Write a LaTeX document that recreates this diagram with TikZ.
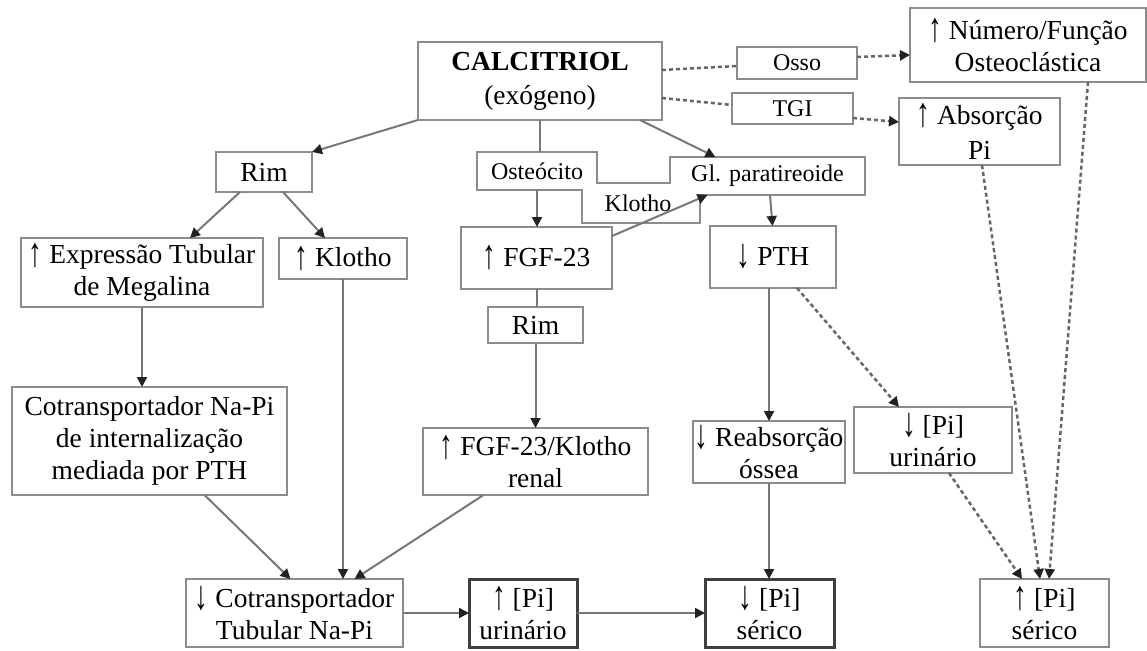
\documentclass[tikz,border=0pt]{standalone}
\usepackage{fontspec}
\usepackage{graphicx}
\setmainfont{Liberation Serif}
\usetikzlibrary{arrows.meta,calc}
\definecolor{boxgray}{HTML}{8C8C8C}
\definecolor{linegray}{HTML}{777777}
\definecolor{dashgray}{HTML}{666666}
\definecolor{darkbox}{HTML}{404040}
\definecolor{tipcol}{HTML}{222222}
\newcommand{\mainf}{\fontsize{27.5}{32}\selectfont}
\newcommand{\smallf}{\fontsize{24}{28}\selectfont}
\newcommand{\upar}{\raisebox{-0.1em}{\scalebox{1}[1.5]{↑}}}
\newcommand{\dnar}{\raisebox{-0.1em}{\scalebox{1}[1.5]{↓}}}
\begin{document}
\begin{tikzpicture}[x=1pt,y=-1pt,
  box/.style={rectangle, draw=boxgray, line width=2pt, inner sep=0pt, outer sep=0pt, align=center, font=\mainf},
  sbox/.style={box, font=\smallf},
  thickbox/.style={box, draw=darkbox, line width=3pt},
  ghost/.style={rectangle, inner sep=0pt, outer sep=0pt, align=center, font=\smallf},
  arr/.style={draw=linegray, line width=2pt, -{Triangle[length=10pt,width=10pt,color=tipcol]}},
  plain/.style={draw=linegray, line width=2pt},
  dsh/.style={draw=dashgray, line width=2.5pt, dash pattern=on 4pt off 3pt},
  darr/.style={dsh, -{Triangle[length=10pt,width=10pt,color=tipcol]}}
]
\useasboundingbox (0,0) rectangle (1147,650);

% top row
\node[box, minimum width=244, minimum height=78] (calc) at (540,81) {\textbf{CALCITRIOL}\\[2pt](exógeno)};
\node[sbox, minimum width=120, minimum height=32] (osso) at (797,63) {Osso};
\node[sbox, minimum width=121, minimum height=31] (tgi) at (792.5,108.5) {TGI};
\node[box, minimum width=236, minimum height=74] (num) at (1028,45) {\upar\ Número/Função\\Osteoclástica};
\node[box, minimum width=161, minimum height=67] (abs) at (979.5,131.5) {\upar\ Absorção\\[3pt]Pi};

% second row
\node[box, minimum width=96, minimum height=40] (rim1) at (264,172) {Rim};
\node[ghost, minimum width=120, minimum height=38] (osteR) at (537,171) {Osteócito};
\node[ghost, minimum width=195, minimum height=38] (glR) at (767.5,176) {Gl. paratireoide};
\node[ghost, minimum width=118, minimum height=40] (kloR) at (641,203) {\hspace*{-6pt}Klotho};
\draw[draw=boxgray, line width=2pt, line join=miter]
  (osteR.north west) -- (osteR.north east) -- (osteR.east |- kloR.north)
  -- (glR.west |- kloR.north) -- (glR.north west) -- (glR.north east)
  -- (glR.south east) -- (kloR.east |- glR.south) -- (kloR.south east)
  -- (kloR.south west) -- (kloR.west |- osteR.south) -- (osteR.south west) -- cycle;

% third row
\node[box, minimum width=242, minimum height=69] (expr) at (142,272.5) {\upar\ Expressão Tubular\\de Megalina};
\node[box, minimum width=128, minimum height=41] (klo) at (343,258.5) {\upar\ Klotho};
\node[box, minimum width=151, minimum height=62] (fgf) at (536.5,258) {\upar\ FGF-23};
\node[box, minimum width=126, minimum height=62] (pth) at (773,257) {\dnar\ PTH};
\node[box, minimum width=95, minimum height=36] (rim2) at (535.5,325) {Rim};

% fourth row
\node[box, minimum width=275, minimum height=108] (cot) at (149.5,441) {Cotransportador Na-Pi\\de internalização\\mediada por PTH};
\node[box, minimum width=225, minimum height=67] (fgfk) at (535.5,461.5) {\upar\ FGF-23/Klotho\\renal};
\node[box, minimum width=152, minimum height=62] (reab) at (769,452) {\dnar\ Reabsorção\\óssea};
\node[box, minimum width=158, minimum height=66] (piu) at (933,440) {\dnar\ [Pi]\\urinário};

% bottom row
\node[box, minimum width=217, minimum height=68] (cott) at (294.5,613) {\dnar\ Cotransportador\\Tubular Na-Pi};
\node[thickbox, minimum width=108, minimum height=68] (piu2) at (523,613) {\upar\ [Pi]\\urinário};
\node[thickbox, minimum width=129, minimum height=68] (pis) at (769.5,613) {\dnar\ [Pi]\\sérico};
\node[box, minimum width=129, minimum height=68] (pis2) at (1044.5,613) {\upar\ [Pi]\\sérico};

% solid connectors
\draw[arr] (calc.south west) -- (rim1.north east);
\draw[plain] (calc.south) -- (calc.south |- osteR.north);
\draw[arr] (osteR.south) -- (osteR.south |- fgf.north);
\draw[arr] ($(calc.south)+(100,0)$) -- ($(glR.north)+(-52,0)$);
\draw[arr] ($(fgf.north east)+(0,9)$) -- ($(glR.south)+(-60,0)$);
\draw[arr] ($(glR.south)+(2.5,0)$) -- ($(pth.north)+(-0.5,0)$);
\draw[arr] ($(rim1.south)+(-24,0)$) -- ($(expr.north)+(48,0)$);
\draw[arr] ($(rim1.south)+(19,0)$) -- ($(klo.north)+(-18,0)$);
\draw[arr] (expr.south) -- (expr.south |- cot.north);
\draw[arr] (klo.south) -- (klo.south |- cott.north);
\draw[arr] ($(cot.south)+(55,0)$) -- ($(cott.north)+(-4,0)$);
\draw[arr] ($(fgfk.south)+(-52,0)$) -- ($(cott.north)+(60,0)$);
\draw[plain] (fgf.south) -- (fgf.south |- rim2.north);
\draw[arr] (rim2.south) -- (rim2.south |- fgfk.north);
\draw[arr] (reab.north |- pth.south) -- (reab.north);
\draw[arr] (reab.south) -- (reab.south |- pis.north);
\draw[arr] (cott.east) -- (piu2.west);
\draw[arr] (piu2.east) -- (pis.west);

% dashed connectors
\draw[dsh] ($(calc.east)+(0,-11)$) -- ($(osso.west)+(0,3)$);
\draw[darr] ($(osso.east)+(0,-6)$) -- ($(num.west)+(0,10)$);
\draw[dsh] ($(calc.east)+(0,17)$) -- ($(tgi.west)+(0,-3.5)$);
\draw[darr] ($(tgi.east)+(0,9.5)$) -- ($(abs.west)+(0,-9.5)$);
\draw[darr] ($(pth.south)+(24,0)$) -- ($(piu.north)+(-34,0)$);
\draw[darr] ($(abs.south)+(2.5,0)$) -- ($(pis2.north)+(-4.5,0)$);
\draw[darr] ($(num.south)+(60,0)$) -- ($(pis2.north)+(4.5,0)$);
\draw[darr] ($(piu.south)+(16,0)$) -- ($(pis2.north)+(-22.5,0)$);
\end{tikzpicture}
\end{document}
